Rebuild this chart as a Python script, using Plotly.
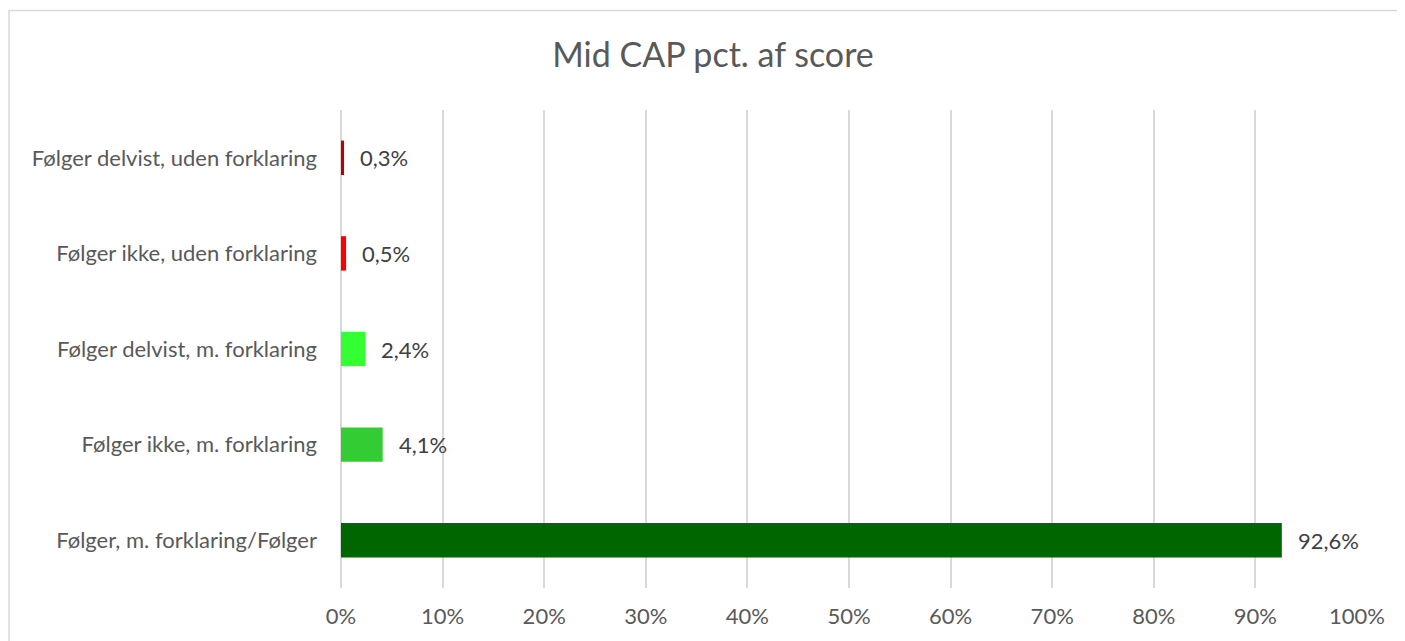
import plotly.graph_objects as go

categories = [
    "Følger, m. forklaring/Følger",
    "Følger ikke, m. forklaring",
    "Følger delvist, m. forklaring",
    "Følger ikke, uden forklaring",
    "Følger delvist, uden forklaring",
]
values = [92.6, 4.1, 2.4, 0.5, 0.3]
colors = ["#006600", "#33CC33", "#33FF33", "#FF0000", "#C00000"]
tick_vals = list(range(0, 101, 10))
tick_text = [f"{v}%" for v in tick_vals]
title = "Mid CAP pct. af score"

labels = [f"{v:.1f}".replace(".", ",") + "%" for v in values]

# page has an 8px body margin, so the figure is offset by 8px
W, H = 1397, 633
L, T = 333, 102
pw, ph = 1016, 480
R, B = W - L - pw, H - T - ph

fig = go.Figure()
fig.add_trace(go.Bar(
    y=categories, x=values, orientation="h",
    marker=dict(color=colors, line=dict(width=0)),
    width=0.36, hoverinfo="skip",
))

for c, v, t in zip(categories, values, labels):
    fig.add_annotation(x=v, y=c, text=t, showarrow=False, xanchor="left",
                       xshift=14, font=dict(size=22, color="#404040"))

fig.add_shape(type="rect", xref="paper", yref="paper",
              x0=(1 - L) / pw, x1=(W - 1 - L) / pw,
              y0=(T + ph - (H + 5)) / ph, y1=(T + ph - 2) / ph,
              line=dict(color="#D9D9D9", width=1.5), fillcolor="rgba(0,0,0,0)", layer="below")

fig.update_layout(
    width=W, height=H,
    margin=dict(l=L, r=R, t=T, b=B),
    paper_bgcolor="white", plot_bgcolor="white",
    font=dict(family="Lato, Open Sans, sans-serif", color="#595959"),
    title=dict(text=title, x=(713 - 8) / W, xanchor="center", y=1 - 47 / H, yanchor="middle",
               font=dict(size=34, color="#595959")),
    showlegend=False,
    bargap=0.64,
)
fig.update_xaxes(range=[0, 100], tickvals=tick_vals, ticktext=tick_text,
                 showgrid=True, gridcolor="#D9D9D9", gridwidth=1.5,
                 zeroline=True, zerolinecolor="#D9D9D9", zerolinewidth=1.5,
                 showline=False, ticks="", tickfont=dict(size=22, color="#595959"),
                 ticklabelstandoff=13, fixedrange=True)
fig.update_yaxes(categoryorder="array", categoryarray=categories, range=[-0.5, 4.5],
                 showgrid=False, zeroline=False, showline=False, ticks="",
                 tickfont=dict(size=22, color="#595959"), ticklabelstandoff=23, fixedrange=True)

fig.write_html("out.html")
